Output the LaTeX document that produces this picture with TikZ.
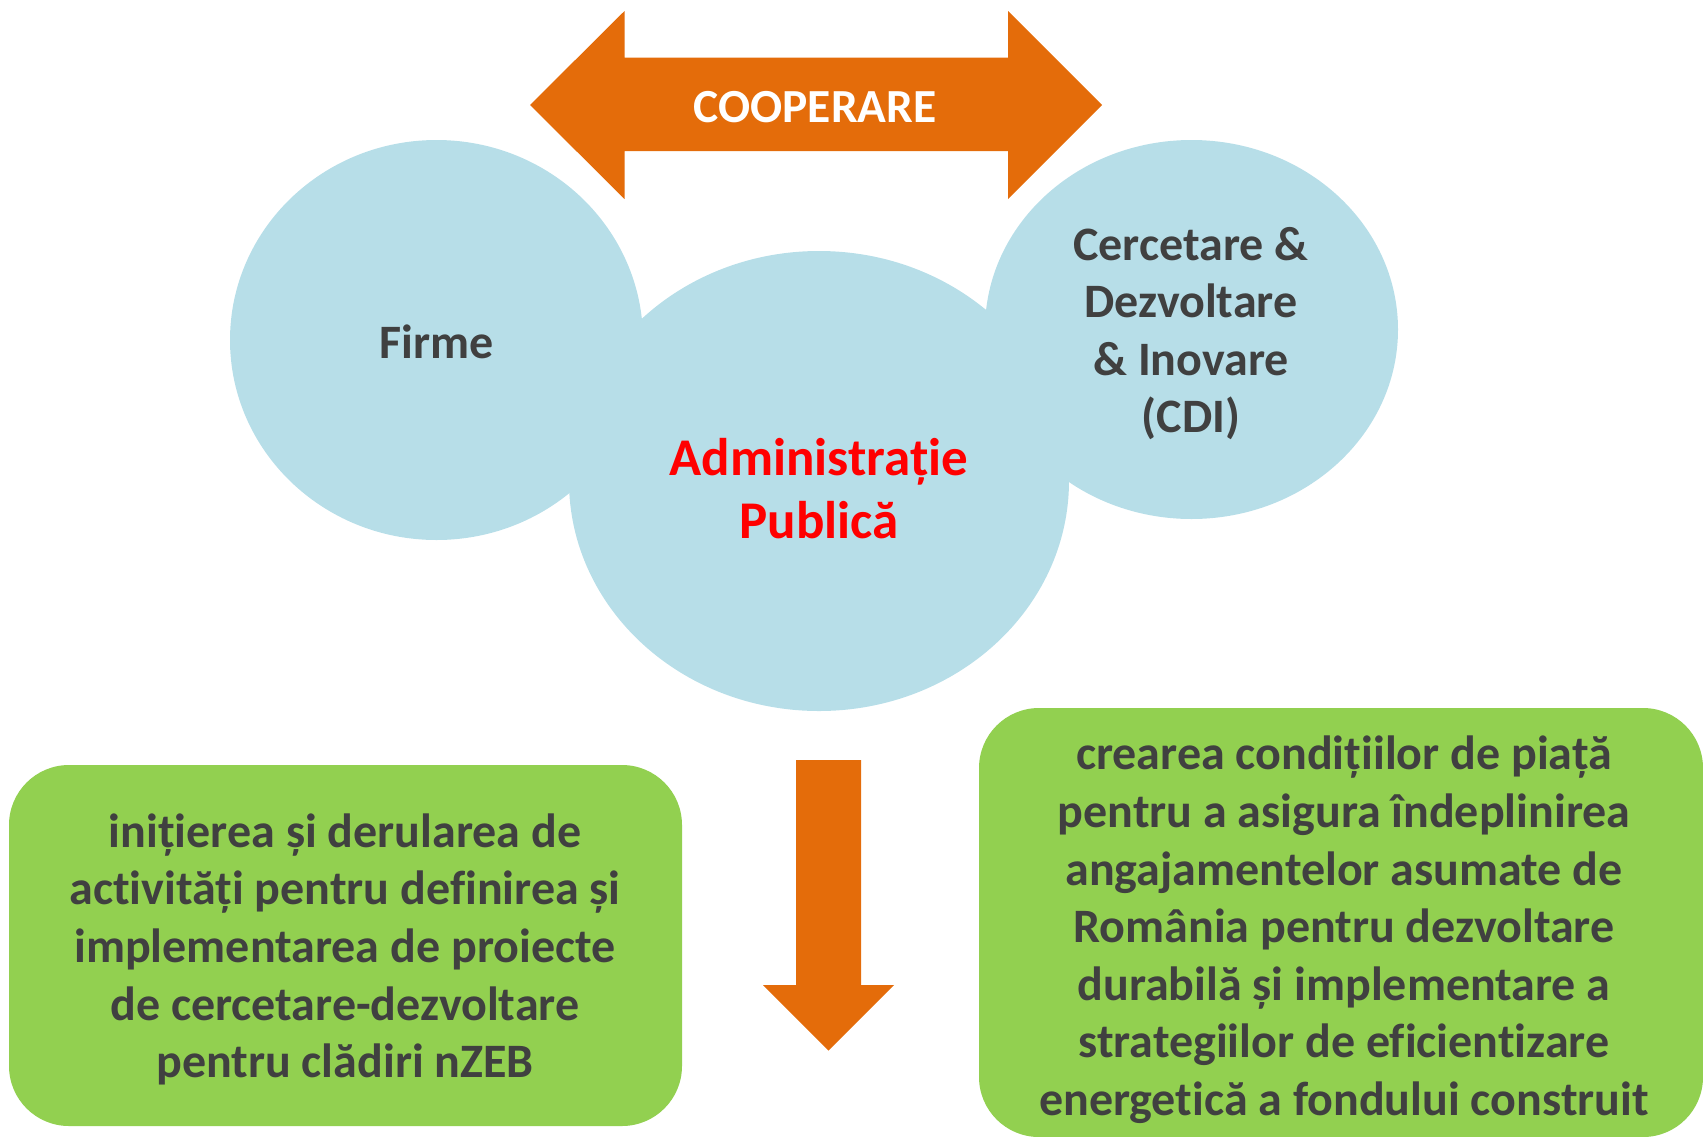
\documentclass[tikz,border=0pt]{standalone}
\usepackage{fontspec}
\setmainfont{Carlito}[Ligatures=NoCommon]
\usetikzlibrary{shapes.geometric}
\definecolor{blob}{HTML}{B7DEE8}
\definecolor{orng}{HTML}{E46C0A}
\definecolor{grn}{HTML}{92D050}
\definecolor{txt}{HTML}{404040}
\definecolor{redtxt}{HTML}{FF0000}
\begin{document}
\begin{tikzpicture}[x=1pt,y=-1pt,
  bubble/.style={ellipse, fill=blob, inner sep=0pt, outer sep=0pt},
  gbox/.style={rectangle, fill=grn, rounded corners=60pt, inner sep=0pt, outer sep=0pt},
  lbl/.style={text=txt, font=\bfseries\fontsize{48}{57.6}\selectfont, align=center, inner sep=0pt},
  redlbl/.style={text=redtxt, font=\bfseries\fontsize{53}{63}\selectfont, align=center, inner sep=0pt},
  whitelbl/.style={text=white, font=\bfseries\fontsize{47.5}{58}\selectfont, inner sep=0pt},
  blockarrow/.style={fill=orng}]
\useasboundingbox (0,0) rectangle (1703,1136);

% bubbles
\node[bubble, minimum width=413pt, minimum height=400pt] (firme) at (436.5,340) {};
\node[bubble, minimum width=413pt, minimum height=379pt] (cdi) at (1191.5,329.5) {};
\node[bubble, minimum width=500pt, minimum height=460pt] (admin) at (819,481) {};

\node[lbl] (firmeT) at (436.5,342) {Firme};
\node[lbl] (cdiT) at (1191,333.5) {Cercetare \&\\Dezvoltare\\\& Inovare\\(CDI)};
\node[redlbl] (adminT) at (819,489) {Administrație\\Publică};

% double arrow
\fill[blockarrow] (530,105) -- (624.5,11) -- (624.5,57.6) -- (1008,57.6) -- (1008,11)
  -- (1102,105) -- (1008,199) -- (1008,151) -- (624.5,151) -- (624.5,199) -- cycle;
\node[whitelbl] (coop) at (815,107) {COOPERARE};

% down arrow
\fill[blockarrow] (796,760) -- (861,760) -- (861,985) -- (894,985) -- (828.5,1050.5)
  -- (763,985) -- (796,985) -- cycle;

% green boxes
\node[gbox, minimum width=673pt, minimum height=361pt] (left) at (345.5,945.5) {};
\node[gbox, minimum width=724pt, minimum height=429pt] (right) at (1341,922.5) {};
\node[lbl] (leftT) at (345,949.5)
  {inițierea și derularea de\\activități pentru definirea și\\implementarea de proiecte\\de cercetare-dezvoltare\\pentru clădiri nZEB};
\node[lbl] (rightT) at (1344,930)
  {crearea condițiilor de piață\\pentru a asigura îndeplinirea\\angajamentelor asumate de\\România pentru dezvoltare\\durabilă și implementare a\\strategiilor de eficientizare\\energetică a fondului construit};
\end{tikzpicture}
\end{document}
